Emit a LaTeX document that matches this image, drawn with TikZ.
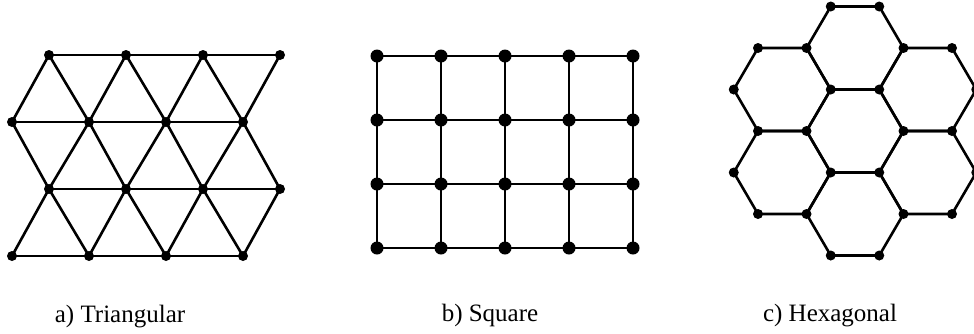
\documentclass[tikz,border=0pt]{standalone}
\usepackage{fontspec}
\setmainfont{Liberation Serif}
\usepackage{tikz}
\usetikzlibrary{positioning}

\begin{document}
\begin{tikzpicture}[
    x=1pt, y=-1pt,
    latt/.style={line width=2.6pt, draw=black},
    dot/.style={circle, fill=black, inner sep=0pt, minimum size=10pt},
    bigdot/.style={circle, fill=black, inner sep=0pt, minimum size=13pt},
    caption/.style={anchor=base, font=\fontsize{25}{30}\selectfont},
]
\useasboundingbox (0,0) rectangle (974,333);

% a) triangular lattice
\foreach \j in {0,...,3} {
    \pgfmathsetmacro{\xo}{mod(\j,2)==0 ? 49 : 12}
    \foreach \i in {0,...,3}
        \node[dot] (t-\j-\i) at ({\xo+\i*77}, {55+\j*67}) {};
}
\foreach \j in {0,...,3}
    \draw[latt] (t-\j-0.center) -- (t-\j-1.center) -- (t-\j-2.center) -- (t-\j-3.center);
\foreach \j/\k in {0/1, 2/3} {
    \foreach \i in {0,...,3}
        \draw[latt] (t-\j-\i.center) -- (t-\k-\i.center);
    \foreach \i/\m in {0/1, 1/2, 2/3}
        \draw[latt] (t-\j-\i.center) -- (t-\k-\m.center);
}
\foreach \i in {0,...,3}
    \draw[latt] (t-1-\i.center) -- (t-2-\i.center);
\foreach \i/\m in {1/0, 2/1, 3/2}
    \draw[latt] (t-1-\i.center) -- (t-2-\m.center);

% b) square lattice
\foreach \j in {0,...,3}
    \foreach \i in {0,...,4}
        \node[bigdot] (s-\j-\i) at ({377+\i*64}, {56+\j*64}) {};
\foreach \j in {0,...,3}
    \draw[latt] (s-\j-0.center) -- (s-\j-1.center) -- (s-\j-2.center) -- (s-\j-3.center) -- (s-\j-4.center);
\foreach \i in {0,...,4}
    \draw[latt] (s-0-\i.center) -- (s-1-\i.center) -- (s-2-\i.center) -- (s-3-\i.center);

% c) hexagonal lattice
\begin{scope}[shift={(855,131)}]
\node[dot] (ha) at (-24.25,-124.5) {};
\node[dot] (hb) at (24.25,-124.5) {};
\node[dot] (hc) at (-97,-83) {};
\node[dot] (hd) at (-48.5,-83) {};
\node[dot] (he) at (48.5,-83) {};
\node[dot] (hf) at (97,-83) {};
\node[dot] (hg) at (-121.25,-41.5) {};
\node[dot] (hh) at (-24.25,-41.5) {};
\node[dot] (hi) at (24.25,-41.5) {};
\node[dot] (hj) at (121.25,-41.5) {};
\node[dot] (hk) at (-97,0) {};
\node[dot] (hl) at (-48.5,0) {};
\node[dot] (hm) at (48.5,0) {};
\node[dot] (hn) at (97,0) {};
\node[dot] (ho) at (-121.25,41.5) {};
\node[dot] (hp) at (-24.25,41.5) {};
\node[dot] (hq) at (24.25,41.5) {};
\node[dot] (hr) at (121.25,41.5) {};
\node[dot] (hs) at (-97,83) {};
\node[dot] (ht) at (-48.5,83) {};
\node[dot] (hu) at (48.5,83) {};
\node[dot] (hv) at (97,83) {};
\node[dot] (hw) at (-24.25,124.5) {};
\node[dot] (hx) at (24.25,124.5) {};
\end{scope}
\foreach \p/\q/\r/\s/\u/\v in {h/i/m/q/p/l, a/b/e/i/h/d, c/d/h/l/k/g, e/f/j/n/m/i,
                                k/l/p/t/s/o, m/n/r/v/u/q, p/q/u/x/w/t}
    \draw[latt, line join=round] (h\p.center) -- (h\q.center) -- (h\r.center) -- (h\s.center)
        -- (h\u.center) -- (h\v.center) -- cycle;

% captions
\node[caption] (cap-a) at (120,322) {a) Triangular};
\node[caption] (cap-b) at (490,321) {b) Square};
\node[caption] (cap-c) at (830,321) {c) Hexagonal};
\end{tikzpicture}
\end{document}
